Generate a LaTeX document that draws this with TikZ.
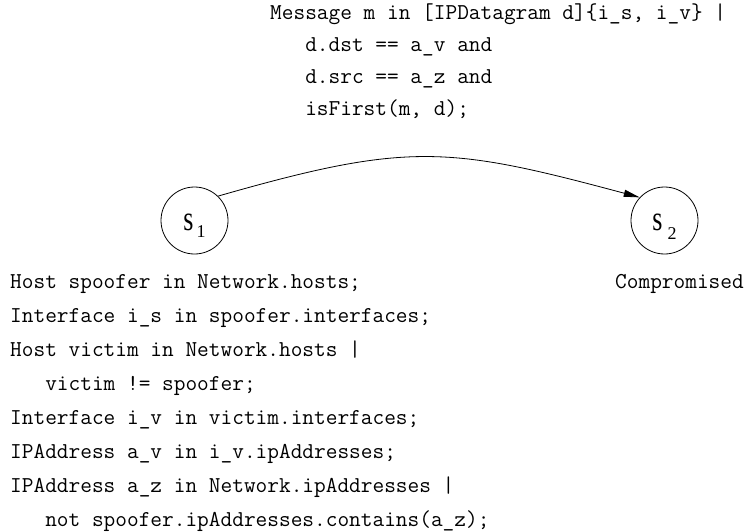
\documentclass[tikz,border=0pt]{standalone}
\usepackage{graphicx}
\usepackage{fontspec}
\newfontfamily\statefont{Liberation Serif}
\usetikzlibrary{arrows.meta}

% state name: s with a lowered index
\newcommand{\stname}[3]{{\statefont\scalebox{1}[1.35]{\fontsize{26}{26}\selectfont s}\kern#2\raisebox{-#3}{\fontsize{18}{18}\selectfont #1}}}

\begin{document}
\begin{tikzpicture}[x=1pt, y=1pt, >={Triangle[length=16pt,width=7pt]},
    state/.style={circle, draw, line width=0.8pt, minimum size=67pt, inner sep=0pt,
        text height=21pt, text depth=2pt},
    codetext/.style={font=\ttfamily\fontsize{22.7}{#1}\selectfont, align=left,
        inner sep=0pt, anchor=base west}]
    \useasboundingbox (0,0) rectangle (749,-532);

    % multi-line nodes sit on the baseline of their last line
    \node[codetext=31.7] (guard) at (270,-115.1) {Message m in [IPDatagram d]\{i\_s, i\_v\} |\\
        \hphantom{xxx}d.dst == a\_v and\\
        \hphantom{xxx}d.src == a\_z and\\
        \hphantom{xxx}isFirst(m, d);};

    \node[state] (s1) at (194.5,-220.5) {\stname{1}{3pt}{7.5pt}};
    \node[state] (s2) at (664.5,-220.5) {\stname{2}{5pt}{9pt}};

    \draw[->, line width=0.8pt] (s1.46) to[out=16, in=165, looseness=1.2] (s2.137);

    \node[codetext=34] (decls) at (10,-526.3) {Host spoofer in Network.hosts;\\
        Interface i\_s in spoofer.interfaces;\\
        Host victim in Network.hosts |\\
        \hphantom{xxx}victim != spoofer;\\
        Interface i\_v in victim.interfaces;\\
        IPAddress a\_v in i\_v.ipAddresses;\\
        IPAddress a\_z in Network.ipAddresses |\\
        \hphantom{xxx}not spoofer.ipAddresses.contains(a\_z);};
    \node[codetext=34] (goal) at (615,-288.3) {Compromised};
\end{tikzpicture}
\end{document}
